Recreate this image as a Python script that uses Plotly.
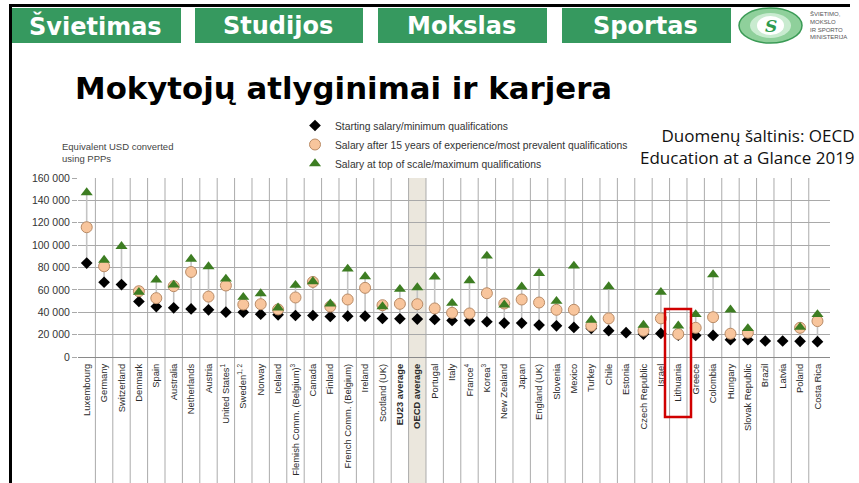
import plotly.graph_objects as go

# ---------------- data ----------------
countries = [
    "Luxembourg", "Germany", "Switzerland", "Denmark", "Spain", "Australia",
    "Netherlands", "Austria", "United States<sup>1</sup>", "Sweden<sup>1, 2</sup>",
    "Norway", "Iceland", "Flemish Comm. (Belgium)<sup>3</sup>", "Canada", "Finland",
    "French Comm. (Belgium)", "Ireland", "Scotland (UK)", "<b>EU23 average</b>",
    "<b>OECD average</b>", "Portugal", "Italy", "France<sup>4</sup>", "Korea<sup>3</sup>",
    "New Zealand", "Japan", "England (UK)", "Slovenia", "Mexico", "Turkey", "Chile",
    "Estonia", "Czech Republic", "Israel", "Lithuania", "Greece", "Colombia",
    "Hungary", "Slovak Republic", "Brazil", "Latvia", "Poland", "Costa Rica",
]
starting = [
    84000, 66800, 64700, 49600, 45100, 44000, 43000, 42200, 40100, 40100,
    38300, 37700, 37100, 37100, 36200, 36500, 36500, 34500, 34200, 33900,
    33600, 32700, 32400, 31500, 30300, 30300, 28500, 27900, 26400, 25500,
    23500, 21700, 20500, 21100, 19500, 19300, 19300, 15400, 15400, 14300,
    14300, 14000, 13700,
]
after15 = [
    116000, 81100, None, 58800, 52600, 63300, 76000, 54000, 63900, 46900,
    47200, 42500, 53200, 67100, 45100, 51400, 61800, 46300, 47500, 47200,
    43400, 39500, 38900, 57000, 47800, 51400, 48700, 42200, 42200, 27900,
    34500, None, 23500, 34500, 20500, 26100, 35600, 20800, 21700, None,
    None, 26100, 32100,
]
top_scale = [
    147000, 86700, 98900, 57900, 68900, 64400, 87600, 80800, 69800, 53500,
    56700, 44000, 64200, 67400, 47500, 78700, 71900, 45100, 60600, 62100,
    71600, 48100, 68300, 90300, 46600, 62700, 74800, 49900, 81400, 33000,
    63000, None, 28500, 57900, 27900, 38000, 73700, 42200, 25500, None,
    None, 26700, 38000,
]
y_ticks = [0, 20000, 40000, 60000, 80000, 100000, 120000, 140000, 160000]
legend_names = [
    "Starting salary/minimum qualifications",
    "Salary after 15 years of experience/most prevalent qualifications",
    "Salary at top of scale/maximum qualifications",
]
header_items = ["Švietimas", "Studijos", "Mokslas", "Sportas"]
highlight = "Lithuania"
oecd_label = "<b>OECD average</b>"

# ---------------- geometry helpers ----------------
W, H = 859, 483
def px(x):
    return x / W
def py(y):
    return 1 - y / H

n = len(countries)
xs = list(range(n))

# range lines (min to max for each category)
line_x, line_y = [], []
for i in xs:
    vals = [v for v in (starting[i], after15[i], top_scale[i]) if v is not None]
    line_x += [i, i, None]
    line_y += [min(vals), max(vals), None]

fig = go.Figure()
fig.add_trace(go.Scatter(x=line_x, y=line_y, mode="lines",
                         line=dict(color="#c4c4c4", width=1.6),
                         showlegend=False, hoverinfo="skip"))
fig.add_trace(go.Scatter(x=xs, y=starting, mode="markers", name=legend_names[0],
                         marker=dict(symbol="diamond", size=9, color="#000000")))
fig.add_trace(go.Scatter(x=xs, y=after15, mode="markers", name=legend_names[1],
                         marker=dict(symbol="circle", size=11, color="#f8c59c",
                                     line=dict(color="#b98b66", width=1))))
fig.add_trace(go.Scatter(x=xs, y=top_scale, mode="markers", name=legend_names[2],
                         marker=dict(symbol="triangle-up", size=10.5, color="#3d7d22")))

shapes = []
# OECD average shading
oi = countries.index(oecd_label)
shapes.append(dict(type="rect", xref="x", yref="paper", x0=oi - 0.5, x1=oi + 0.5,
                   y0=0, y1=py(178), fillcolor="#ebe7dd", line=dict(width=0),
                   layer="below"))
# vertical separators running through the label area
for i in range(n - 1):
    shapes.append(dict(type="line", xref="x", yref="paper", x0=i + 0.5, x1=i + 0.5,
                       y0=0, y1=py(178), line=dict(color="#ababab", width=1),
                       layer="below"))
# Lithuania highlight box
shapes.append(dict(type="rect", xref="paper", yref="paper", x0=px(665), x1=px(691),
                   y0=py(417), y1=py(309), line=dict(color="#d00000", width=2.5),
                   fillcolor="rgba(0,0,0,0)"))
# slide frame lines
shapes.append(dict(type="rect", xref="paper", yref="paper", x0=px(9), x1=px(850),
                   y0=py(7), y1=py(4), fillcolor="#000000", line=dict(width=0)))
shapes.append(dict(type="rect", xref="paper", yref="paper", x0=px(9), x1=px(12),
                   y0=0, y1=py(4), fillcolor="#000000", line=dict(width=0)))
# header boxes
box_x = [(12, 181), (195, 363), (378, 547), (562, 731)]
for x0, x1 in box_x:
    shapes.append(dict(type="rect", xref="paper", yref="paper", x0=px(x0), x1=px(x1),
                       y0=py(43), y1=py(8), fillcolor="#36995f", line=dict(width=0)))
# logo
shapes.append(dict(type="circle", xref="paper", yref="paper", x0=px(739), x1=px(802),
                   y0=py(43), y1=py(8), fillcolor="#8fd09b", line=dict(color="#3a9a55", width=1.5)))
shapes.append(dict(type="circle", xref="paper", yref="paper", x0=px(750), x1=px(791),
                   y0=py(38), y1=py(13), fillcolor="#c9ebd0", line=dict(width=0)))
shapes.append(dict(type="circle", xref="paper", yref="paper", x0=px(757), x1=px(784),
                   y0=py(35), y1=py(16), fillcolor="#ffffff", line=dict(width=0)))

annotations = []
for (x0, x1), label in zip(box_x, header_items):
    annotations.append(dict(x=px((x0 + x1) / 2 - 1), y=py(25.5), xref="paper", yref="paper",
                            text=f"<b>{label}</b>", showarrow=False,
                            font=dict(family="DejaVu Sans", size=24, color="#ffffff"),
                            xanchor="center", yanchor="middle"))
annotations.append(dict(x=px(770.5), y=py(25.5), xref="paper", yref="paper",
                        text="<b><i>S</i></b>", showarrow=False,
                        font=dict(family="DejaVu Serif", size=17, color="#2f9a4f"),
                        xanchor="center", yanchor="middle"))
annotations.append(dict(x=px(808), y=py(25), xref="paper", yref="paper",
                        text="ŠVIETIMO,<br>MOKSLO<br>IR SPORTO<br>MINISTERIJA",
                        showarrow=False, align="left",
                        font=dict(family="Liberation Sans", size=6, color="#555555"),
                        xanchor="left", yanchor="middle"))
annotations.append(dict(x=px(73), y=py(88), xref="paper", yref="paper",
                        text="<b>Mokytojų atlyginimai ir karjera</b>", showarrow=False,
                        font=dict(family="DejaVu Sans", size=30.8, color="#000000"),
                        xanchor="left", yanchor="middle"))
annotations.append(dict(x=px(60), y=py(152), xref="paper", yref="paper",
                        text="Equivalent USD converted<br>using PPPs", showarrow=False,
                        align="left",
                        font=dict(family="Liberation Sans", size=9.5, color="#444444"),
                        xanchor="left", yanchor="middle"))
annotations.append(dict(x=px(857), y=py(146), xref="paper", yref="paper",
                        text="Duomenų šaltinis: OECD<br>Education at a Glance 2019",
                        showarrow=False, align="right",
                        font=dict(family="Open Sans", size=17, color="#111111"),
                        xanchor="right", yanchor="middle"))

fig.update_layout(
    width=W, height=H,
    margin=dict(l=0, r=0, t=0, b=0),
    paper_bgcolor="#ffffff", plot_bgcolor="rgba(0,0,0,0)",
    separators=". ",
    showlegend=True,
    legend=dict(x=px(295), y=py(111), xanchor="left", yanchor="top",
                font=dict(family="Liberation Sans", size=10.3, color="#333333"),
                bgcolor="rgba(0,0,0,0)", tracegroupgap=0, itemsizing="trace"),
    xaxis=dict(domain=[px(78), px(830)], range=[-0.5, 42.72],
               tickmode="array", tickvals=xs, ticktext=countries,
               tickangle=-90, showgrid=False, zeroline=False, showline=False,
               ticks="outside", ticklen=2, tickcolor="rgba(0,0,0,0)",
               tickfont=dict(family="Liberation Sans", size=9.4, color="#2a2a2a"),
               automargin=False, fixedrange=True),
    yaxis=dict(domain=[py(357), py(178)], range=[0, 160000],
               tickmode="array", tickvals=y_ticks, tickformat=",d",
               showgrid=True, gridcolor="#a9a9a9", gridwidth=1,
               zeroline=True, zerolinecolor="#8a8a8a", zerolinewidth=1.3,
               showline=False, ticks="outside", ticklen=5, tickcolor="#a9a9a9",
               tickfont=dict(family="Liberation Sans", size=10.5, color="#333333"),
               automargin=False, fixedrange=True),
    shapes=shapes,
    annotations=annotations,
)

fig.write_html(
    "out.html",
    config={"displayModeBar": False},
    post_script="document.body.style.margin='0';document.body.style.overflow='hidden';",
)
